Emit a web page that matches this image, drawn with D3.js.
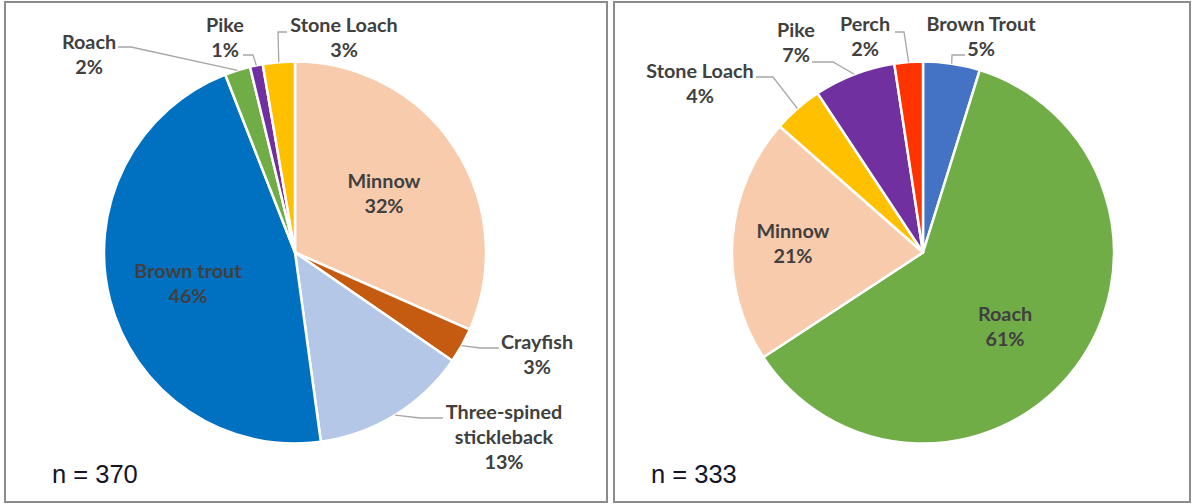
<!DOCTYPE html>
<html>
<head>
<meta charset="utf-8">
<script src="https://cdn.jsdelivr.net/npm/d3@7"></script>
<style>
  html, body { margin: 0; padding: 0; background: #fff; }
  svg { display: block; }
</style>
</head>
<body>
<div id="chart"></div>
<script>
// ------------------------------
// Data (fish counts per survey site)
// ------------------------------
const leftNames = ["Minnow", "Crayfish", "Three-spined\nstickleback", "Brown trout", "Roach", "Pike", "Stone Loach"];
const leftCounts = [117, 11, 49, 171, 8, 4, 10];
const leftColors = ["#F8CBAD", "#C55A11", "#B4C7E7", "#0070C0", "#70AD47", "#7030A0", "#FFC000"];
const leftTotal = 370;

const rightNames = ["Brown Trout", "Roach", "Minnow", "Stone Loach", "Pike", "Perch"];
const rightCounts = [16, 203, 69, 14, 23, 8];
const rightColors = ["#4472C4", "#70AD47", "#F8CBAD", "#FFC000", "#7030A0", "#FF3300"];
const rightTotal = 333;

// ------------------------------
// Layout (label placement like the manual Excel labels)
// ------------------------------
const width = 1192;
const height = 504;
const radius = 191;

const panels = [
  {
    x0: 5, x1: 607, cx: 295, cy: 252.5, nx: 52,
    names: leftNames, counts: leftCounts, colors: leftColors, total: leftTotal,
    labels: [
      { x: 384, y: 188 },
      { x: 537, y: 349, leader: [[499, 348], [480, 348]] },
      { x: 504, y: 419, leader: [[443, 418], [420, 418]] },
      { x: 188, y: 278 },
      { x: 89, y: 49, leader: [[118, 47], [131, 47]] },
      { x: 225, y: 32, leader: [[243, 55], [253, 55]] },
      { x: 344, y: 32, leader: [[287, 32], [278, 32]] }
    ]
  },
  {
    x0: 614, x1: 1190, cx: 923, cy: 252.5, nx: 651,
    names: rightNames, counts: rightCounts, colors: rightColors, total: rightTotal,
    labels: [
      { x: 981, y: 31, leader: [[965, 55], [952, 55]] },
      { x: 1005, y: 321 },
      { x: 793, y: 238 },
      { x: 700, y: 78, leader: [[756, 77], [773, 77]] },
      { x: 796, y: 37, leader: [[812, 62], [833, 62]] },
      { x: 865, y: 31, leader: [[895, 32], [904, 32]] }
    ]
  }
];

const svg = d3.select("#chart").append("svg").attr("width", width).attr("height", height);

const pie = d3.pie().sort(null).value((d) => d);
const arc = d3.arc().innerRadius(0).outerRadius(radius);
const edgeArc = d3.arc().innerRadius(radius).outerRadius(radius);

panels.forEach((p) => {
  // Panel frame
  svg.append("rect")
    .attr("x", p.x0).attr("y", 2)
    .attr("width", p.x1 - p.x0).attr("height", 500)
    .attr("fill", "#fff")
    .attr("stroke", "#8c8c8c")
    .attr("stroke-width", 2);

  const g = svg.append("g").attr("transform", `translate(${p.cx},${p.cy})`);
  const arcs = pie(p.counts);

  // Slices
  g.selectAll("path.slice")
    .data(arcs)
    .join("path")
    .attr("class", "slice")
    .attr("d", arc)
    .attr("fill", (d, i) => p.colors[i])
    .attr("stroke", "#fff")
    .attr("stroke-width", 2.5)
    .attr("stroke-linejoin", "round");

  // Leader lines
  arcs.forEach((d, i) => {
    const lab = p.labels[i];
    if (!lab.leader) return;
    const end = edgeArc.centroid(d);
    const pts = lab.leader.map(([x, y]) => [x - p.cx, y - p.cy]).concat([end]);
    g.append("path")
      .attr("d", d3.line()(pts))
      .attr("fill", "none")
      .attr("stroke", "#a6a6a6")
      .attr("stroke-width", 1.3);
  });

  // Labels
  arcs.forEach((d, i) => {
    const lab = p.labels[i];
    const pct = Math.round((p.counts[i] / p.total) * 100) + "%";
    const lines = p.names[i].split("\n").concat([pct]);
    const t = svg.append("text")
      .attr("text-anchor", "middle")
      .attr("font-family", "Lato, 'Noto Sans', sans-serif")
      .attr("font-weight", "bold")
      .attr("font-size", 19.8)
      .attr("fill", "#404040");
    lines.forEach((line, k) => {
      t.append("tspan").attr("x", lab.x).attr("y", lab.y + k * 25).text(line);
    });
  });

  // Sample size
  svg.append("text")
    .attr("x", p.nx)
    .attr("y", 483)
    .attr("font-family", "'Liberation Sans', Arial, sans-serif")
    .attr("font-size", 25.5)
    .attr("fill", "#141428")
    .text("n = " + p.total);
});
</script>
</body>
</html>
